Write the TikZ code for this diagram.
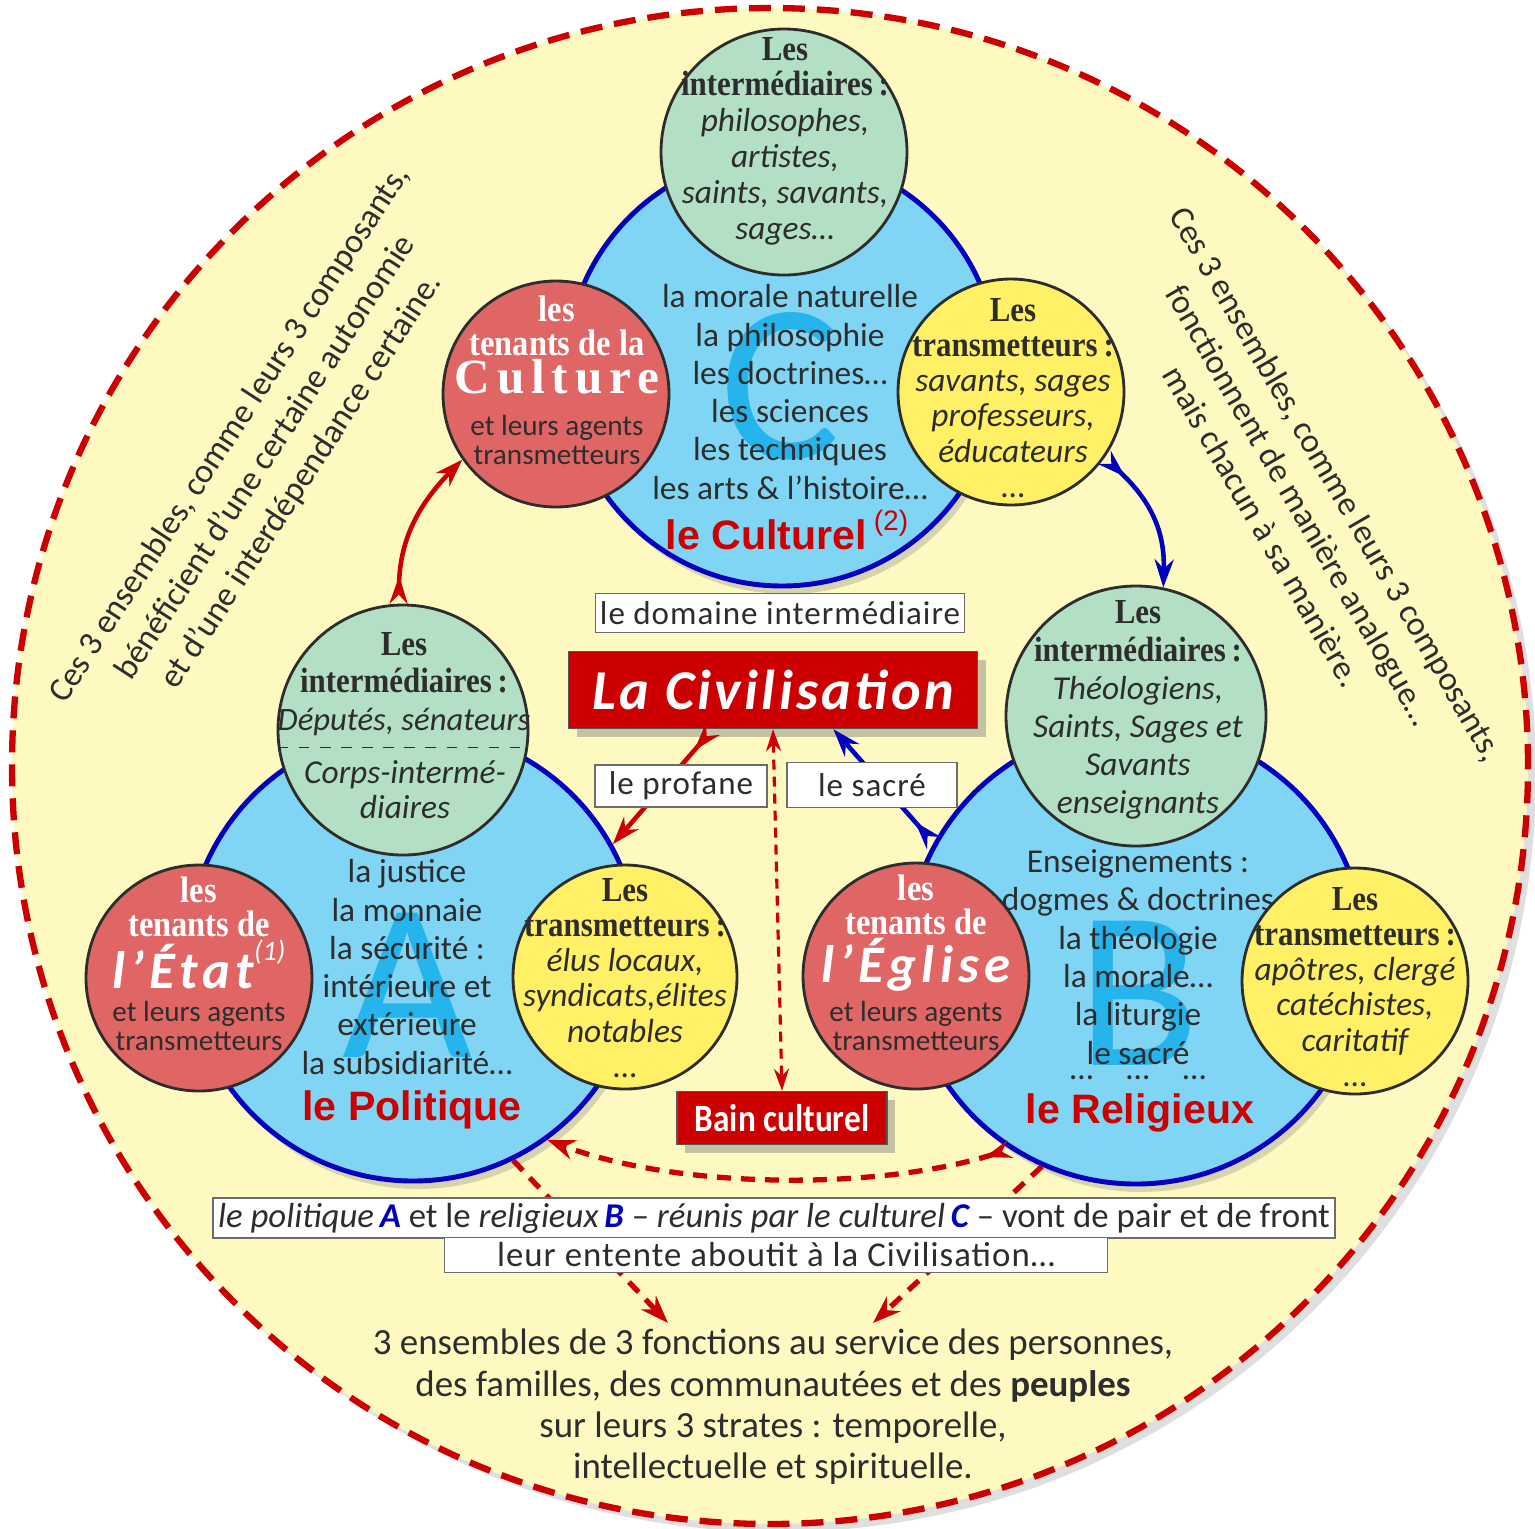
\documentclass[tikz,border=0pt]{standalone}
\usepackage{fontspec}
\setmainfont{Carlito}
\newfontfamily\timesf[FakeStretch=0.88]{Liberation Serif}
\newfontfamily\arialf{Liberation Sans}
\newfontfamily\narrowf[FakeStretch=0.86]{Carlito}
\newfontfamily\widef[LetterSpace=3]{Carlito}
\newfontfamily\widerf[LetterSpace=6]{Carlito}
\newfontfamily\statef[LetterSpace=10]{Carlito}
\newfontfamily\culturef[LetterSpace=14]{Liberation Serif}
\usetikzlibrary{arrows.meta,shadows}
\definecolor{rcol}{RGB}{204,0,0}
\definecolor{bcol}{RGB}{0,0,190}
\definecolor{pcol}{RGB}{254,249,193}
\definecolor{lcol}{RGB}{128,212,244}
\definecolor{gcol}{RGB}{179,223,196}
\definecolor{scol}{RGB}{224,102,102}
\definecolor{ycol}{RGB}{255,240,102}
\definecolor{tcol}{RGB}{45,45,45}
\definecolor{acol}{RGB}{38,180,236}
\tikzset{every picture/.style={x=0.1mm,y=-0.1mm}}
\tikzset{disc/.style={circle,draw=bcol,line width=1.4pt,fill=lcol,inner sep=0pt,drop shadow={opacity=.3,shadow xshift=.5mm,shadow yshift=-.8mm}}}
\tikzset{ball/.style={circle,draw=tcol,line width=.8pt,inner sep=0pt,minimum size=22.6mm}}
\tikzset{lines/.style={text=tcol,align=center,inner sep=0pt}}
\tikzset{tagbox/.style={draw=tcol!70,fill=white,inner sep=0pt,text=tcol}}
\tikzset{redbox/.style={draw=tcol!80,fill=rcol,inner sep=0pt,text=white,drop shadow={opacity=.45,shadow xshift=.8mm,shadow yshift=-.8mm}}}
\tikzset{realm/.style={text=rcol,inner sep=0pt,font=\arialf\bfseries\fontsize{11.7}{14}\selectfont}}
\tikzset{bigletter/.style={text=acol,inner sep=0pt,font=\fontsize{64}{64}\selectfont}}
\tikzset{arr/.style={line width=1.3pt,{Stealth[reversed,length=2.8mm,width=1.8mm]}-{Stealth[length=2.8mm,width=1.9mm]}}}
\tikzset{dashy/.style={rcol,line width=1.5pt,dash pattern=on 1.4mm off 1mm}}
\newcommand{\hl}[1]{{\timesf\bfseries\fontsize{10}{10}\selectfont #1}}
\newcommand{\il}[1]{{\itshape #1}}
\newcommand{\colA}{\textcolor{bcol}{\bfseries\itshape A}}
\newcommand{\colB}{\textcolor{bcol}{\bfseries\itshape B}}
\newcommand{\colC}{\textcolor{bcol}{\bfseries\itshape C}}

\begin{document}
\begin{tikzpicture}
\useasboundingbox (0,0) rectangle (1535,1528);
\node [circle,minimum size=151.6mm,fill=pcol,draw=rcol,line width=1.8pt,dash pattern=on 2.2mm off 1.2mm,drop shadow={opacity=.25,shadow xshift=.8mm,shadow yshift=-.8mm}] (world) at (770,766) {};

\node [lines,rotate=57,font=\fontsize{9.7}{12.2}\selectfont] (noteL) at (266,458) {Ces 3 ensembles, comme leurs 3 composants,\\ bénéficient d’une certaine autonomie\\ et d’une interdépendance certaine.};
\node [lines,rotate=-60,font=\fontsize{9.7}{12.2}\selectfont] (noteR) at (1300,505) {Ces 3 ensembles, comme leurs 3 composants,\\ fonctionnent de manière analogue…\\ mais chacun à sa manière.};

\node [disc,minimum size=43.2mm] (polC) at (782,370) {};
\node [disc,minimum size=45.2mm] (polA) at (413,955) {};
\node [disc,minimum size=45.8mm] (polB) at (1136,955) {};

\node [bigletter] (letC) at (780,386) {C};
\node [bigletter] (letA) at (408,985) {A};
\node [bigletter] (letB) at (1139,993) {B};

\node [lines,font=\fontsize{9.5}{10.9}\selectfont] (bodyC) at (790,392) {la morale naturelle\\ la philosophie\\ les doctrines…\\ les sciences\\ les techniques\\ les arts \& l’histoire…};
\node [lines,font=\fontsize{9.5}{10.9}\selectfont] (bodyA) at (407,967) {la justice\\ la monnaie\\ la sécurité :\\ intérieure et\\ extérieure\\ la subsidiarité…};
\node [lines,font=\fontsize{9.5}{10.9}\selectfont] (bodyB) at (1138,957) {Enseignements :\\ dogmes \& doctrines\\ la théologie\\ la morale…\\ la liturgie\\ le sacré};
\node [lines,font=\fontsize{9.5}{10.9}\selectfont] (dotsB) at (1138,1078) {…\quad…\quad…};

\node [ball,fill=gcol,minimum size=24.6mm] (interC) at (784,152) {};
\node [lines,font=\fontsize{9.5}{10.2}\selectfont] (interCt) at (785,141) {\hl{Les}\\ \hl{intermédiaires\,:}\\ \il{philosophes,}\\ \il{artistes,}\\ \il{saints, savants,}\\ \il{sages…}};
\node [ball,fill=gcol,minimum size=25mm] (interA) at (403,730) {};
\node [lines,font=\fontsize{9.3}{10.6}\selectfont] (interAt) at (404,684) {\hl{Les}\\ \hl{intermédiaires\,:}\\ \il{Députés, sénateurs}};
\draw [tcol,thin,dashed] (interA.188) -- (interA.352);
\node [lines,font=\fontsize{9.5}{10}\selectfont\itshape] (interAb) at (405,790) {Corps-intermé-\\ diaires};
\node [ball,fill=gcol,minimum size=26mm] (interB) at (1136,716) {};
\node [lines,font=\fontsize{9.5}{10.8}\selectfont] (interBt) at (1138,710) {\hl{Les}\\ \hl{intermédiaires\,:}\\ \il{Théologiens,}\\ \il{Saints, Sages et}\\ \il{Savants}\\ \il{enseignants}};

\node [ball,fill=scol] (tenC) at (556,394) {};
\node [lines,text=white,font=\timesf\bfseries\fontsize{10.5}{9.5}\selectfont] (tenCt) at (557,345) {les\\ tenants de la\\ {\culturef\bfseries\fontsize{14}{14}\selectfont Culture}};
\node [lines,font=\fontsize{8.3}{8.5}\selectfont] (tenCa) at (557,440) {et leurs agents\\ transmetteurs};
\node [ball,fill=scol] (tenA) at (199,978) {};
\node [lines,text=white,font=\timesf\bfseries\fontsize{10.5}{9.5}\selectfont] (tenAt) at (199,933) {les\\ tenants de\\ {\statef\bfseries\itshape\fontsize{15}{15}\selectfont l’État\raisebox{1.1ex}{\normalfont\itshape\fontsize{8}{8}\selectfont(1)}}};
\node [lines,font=\fontsize{8.3}{8.5}\selectfont] (tenAa) at (199,1026) {et leurs agents\\ transmetteurs};
\node [ball,fill=scol] (tenB) at (916,976) {};
\node [lines,text=white,font=\timesf\bfseries\fontsize{10.5}{9.5}\selectfont] (tenBt) at (916,933) {les\\ tenants de\\ {\statef\bfseries\itshape\fontsize{15}{15}\selectfont l’Église}};
\node [lines,font=\fontsize{8.3}{8.5}\selectfont] (tenBa) at (916,1026) {et leurs agents\\ transmetteurs};

\node [ball,fill=ycol] (transC) at (1011,392) {};
\node [lines,font=\fontsize{9.5}{10}\selectfont] (transCt) at (1013,398) {\hl{Les}\\ \hl{transmetteurs\,:}\\ \il{savants, sages}\\ \il{professeurs,}\\ \il{éducateurs}\\ …};
\node [ball,fill=ycol,minimum size=22.4mm] (transA) at (625,977) {};
\node [lines,font=\fontsize{9.5}{10}\selectfont] (transAt) at (625,978) {\hl{Les}\\ \hl{transmetteurs\,:}\\ \il{élus locaux,}\\ \il{syndicats,élites}\\ \il{notables}\\ …};
\node [ball,fill=ycol] (transB) at (1355,981) {};
\node [lines,font=\fontsize{9.5}{10}\selectfont] (transBt) at (1355,987) {\hl{Les}\\ \hl{transmetteurs\,:}\\ \il{apôtres, clergé}\\ \il{catéchistes,}\\ \il{caritatif}\\ …};

\node [realm] (realmC) at (787,530) {le Culturel\,\raisebox{.9ex}{\mdseries\fontsize{8}{8}\selectfont(2)}};
\node [realm] (realmA) at (412,1110) {le Politique};
\node [realm] (realmB) at (1140,1113) {le Religieux};

\node [tagbox,minimum width=36.9mm,minimum height=3.9mm,font=\widef\fontsize{9.4}{12}\selectfont] (dom) at (780,613) {le domaine intermédiaire};
\node [redbox,minimum width=40.9mm,minimum height=7.7mm,font=\widerf\bfseries\itshape\fontsize{16}{20}\selectfont] (civ) at (773,690) {La Civilisation};
\node [redbox,minimum width=21mm,minimum height=5.3mm,font=\narrowf\bfseries\fontsize{11}{13}\selectfont] (bain) at (782,1118) {Bain culturel};

\draw [rcol,arr] (interA.92) .. controls (400,540) and (418,505) .. (tenC.215);
\draw [bcol,arr] (transC.325) .. controls (1150,500) and (1165,530) .. (interB.78);
\draw [rcol,arr] (civ.213) -- (polA.29);
\draw [bcol,arr] (polB.151) -- (civ.327);
\draw [rcol,line width=.9pt,dash pattern=on 1mm off .7mm,{Stealth[length=2.2mm,width=1.5mm]}-{Stealth[length=2.2mm,width=1.5mm]}] (civ.south) -- (bain.north);

\node [tagbox,minimum width=17.2mm,minimum height=4.2mm,font=\widef\fontsize{9.4}{12}\selectfont] (prof) at (681,786) {le profane};
\node [tagbox,minimum width=17mm,minimum height=4.5mm,font=\widef\fontsize{9.4}{12}\selectfont] (sacre) at (872,785) {le sacré};

\draw [dashy,{Stealth[reversed,length=2.6mm,width=1.8mm]}-{Stealth[length=2.8mm,width=2mm]}] (polB.237) .. controls (880,1190) and (680,1190) .. (polA.306);
\coordinate (pl) at (668,1323);
\coordinate (pr) at (873,1323);
\draw [dashy,-{Stealth[length=2.8mm,width=2mm]}] (polA.296) -- (pl);
\draw [dashy,-{Stealth[length=2.8mm,width=2mm]}] (polB.246) -- (pr);

\node [tagbox,minimum width=112.2mm,minimum height=4mm,font=\fontsize{9.9}{12}\selectfont] (phrase1) at (774,1218) {\il{le politique}\,\colA{} et le \il{religieux}\,\colB{} – \il{réunis par le culturel}\,\colC{} – vont de pair et de front};
\node [tagbox,minimum width=66.3mm,minimum height=3.5mm,font=\widef\fontsize{9.9}{12}\selectfont] (phrase2) at (776,1255) {leur entente aboutit à la Civilisation…};

\node [lines,font=\fontsize{10.5}{11.75}\selectfont] (summary) at (773,1407) {3 ensembles de 3 fonctions au service des personnes,\\ des familles, des communautées et des \textbf{peuples}\\ sur leurs 3 strates : temporelle,\\ intellectuelle et spirituelle.};
\end{tikzpicture}
\end{document}
